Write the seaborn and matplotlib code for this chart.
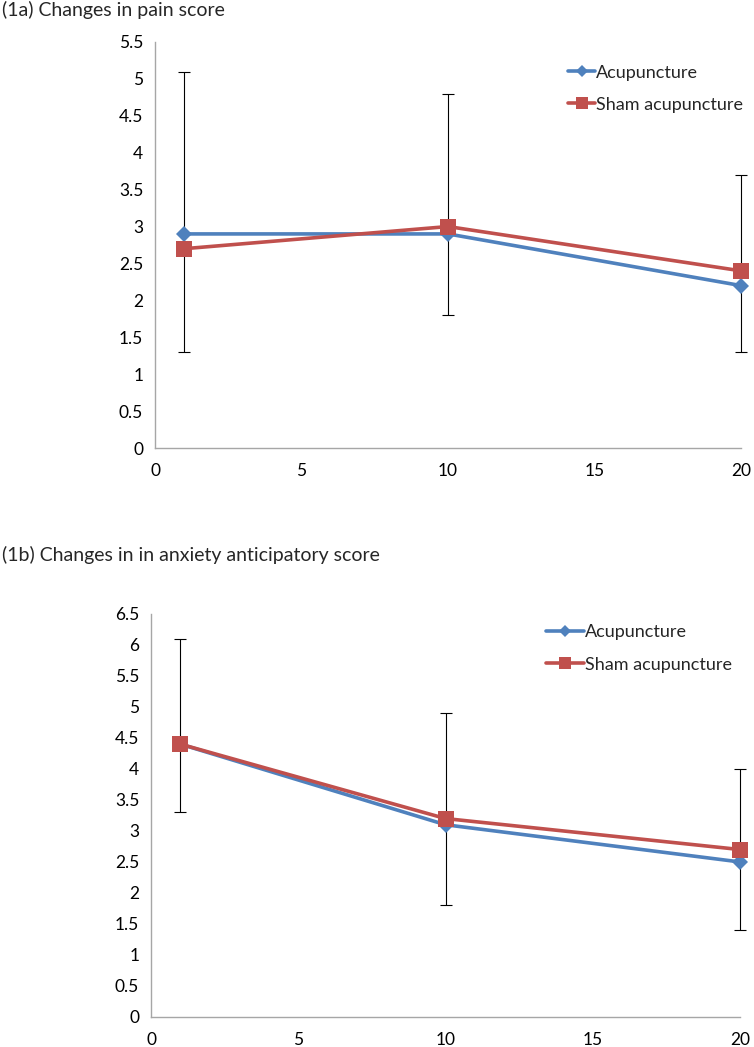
import pandas as pd
import numpy as np
import matplotlib
matplotlib.use("Agg")
import matplotlib.pyplot as plt
import seaborn as sns

# time points (x) shared by both panels
visits = [1, 10, 20]

# (1a) pain score
pain_acu = [2.9, 2.9, 2.2]
pain_sham = [2.7, 3.0, 2.4]
pain_err_low = [1.3, 1.8, 1.3]
pain_err_high = [5.1, 4.8, 3.7]

# (1b) anxiety anticipatory score
anx_acu = [4.4, 3.1, 2.5]
anx_sham = [4.4, 3.2, 2.7]
anx_err_low = [3.3, 1.8, 1.4]
anx_err_high = [6.1, 4.9, 4.0]

groups = ["Acupuncture", "Sham acupuncture"]
colors = {"Acupuncture": "#4F81BD", "Sham acupuncture": "#C0504D"}

sns.set_style("white")
plt.rcParams['font.family'] = ['Lato', 'DejaVu Sans']


def make_df(acu, sham):
    return pd.DataFrame({
        "x": visits * 2,
        "y": acu + sham,
        "group": [groups[0]] * 3 + [groups[1]] * 3,
    })


def draw(ax, acu, sham, lo, hi, ymax, title, title_y, leg_x, leg_y, hlen):
    df = make_df(acu, sham)
    mid = [(a + b) / 2 for a, b in zip(lo, hi)]
    half = [(b - a) / 2 for a, b in zip(lo, hi)]
    eb = ax.errorbar(visits, mid, yerr=half, fmt='none', ecolor='black',
                     elinewidth=0.8, capsize=4, capthick=0.8, zorder=1)
    for art in eb.lines[1] + eb.lines[2]:
        art.set_clip_on(False)
    sns.lineplot(data=df, x="x", y="y", hue="group", style="group",
                 markers={"Acupuncture": "D", "Sham acupuncture": "s"},
                 dashes=False, palette=colors, linewidth=2.6,
                 markeredgewidth=0, ax=ax, zorder=3)
    for l in ax.get_lines():
        if l.get_marker() == "D":
            l.set_markersize(8.5)
        elif l.get_marker() == "s":
            l.set_markersize(11)
        l.set_clip_on(False)
    ax.set_xlim(0, 20)
    ax.set_ylim(0, ymax)
    ax.set_xticks([0, 5, 10, 15, 20])
    yt = np.arange(0, ymax + 0.01, 0.5)
    ax.set_yticks(yt)
    ax.set_yticklabels([f"{v:g}" for v in yt])
    ax.set_xlabel("")
    ax.set_ylabel("")
    for s in ["top", "right"]:
        ax.spines[s].set_visible(False)
    for s in ["left", "bottom"]:
        ax.spines[s].set_color("#A6A6A6")
        ax.spines[s].set_linewidth(1.0)
    ax.tick_params(axis="both", direction="out", length=5, width=1,
                   color="#A6A6A6", labelsize=12.5, labelcolor="black")
    ax.tick_params(axis="x", pad=6)
    leg = ax.legend(loc="center left", bbox_to_anchor=(leg_x, leg_y), frameon=False,
                    fontsize=13, handlelength=hlen, handletextpad=0.05,
                    labelspacing=0.9, borderaxespad=0, borderpad=0)
    for h in leg.legend_handles:
        if h.get_marker() == "D":
            h.set_markersize(6.5)
        else:
            h.set_markersize(9)
    ax.figure.text(0.003, title_y, title, fontsize=14, ha="left", va="center")


fig = plt.figure(figsize=(7.54, 10.47), dpi=100)
ax1 = fig.add_axes([0.2056, 0.5721, 0.7772, 0.3878])
ax2 = fig.add_axes([0.2003, 0.0287, 0.7812, 0.3849])

draw(ax1, pain_acu, pain_sham, pain_err_low, pain_err_high, 5.5,
     "(1a) Changes in pain score", 1 - 10 / 1047, 0.705, 0.885, 1.5)
draw(ax2, anx_acu, anx_sham, anx_err_low, anx_err_high, 6.5,
     "(1b) Changes in in anxiety anticipatory score", 1 - 555 / 1047, 0.67, 0.914, 2.15)

fig.savefig("out.png", dpi=100)
